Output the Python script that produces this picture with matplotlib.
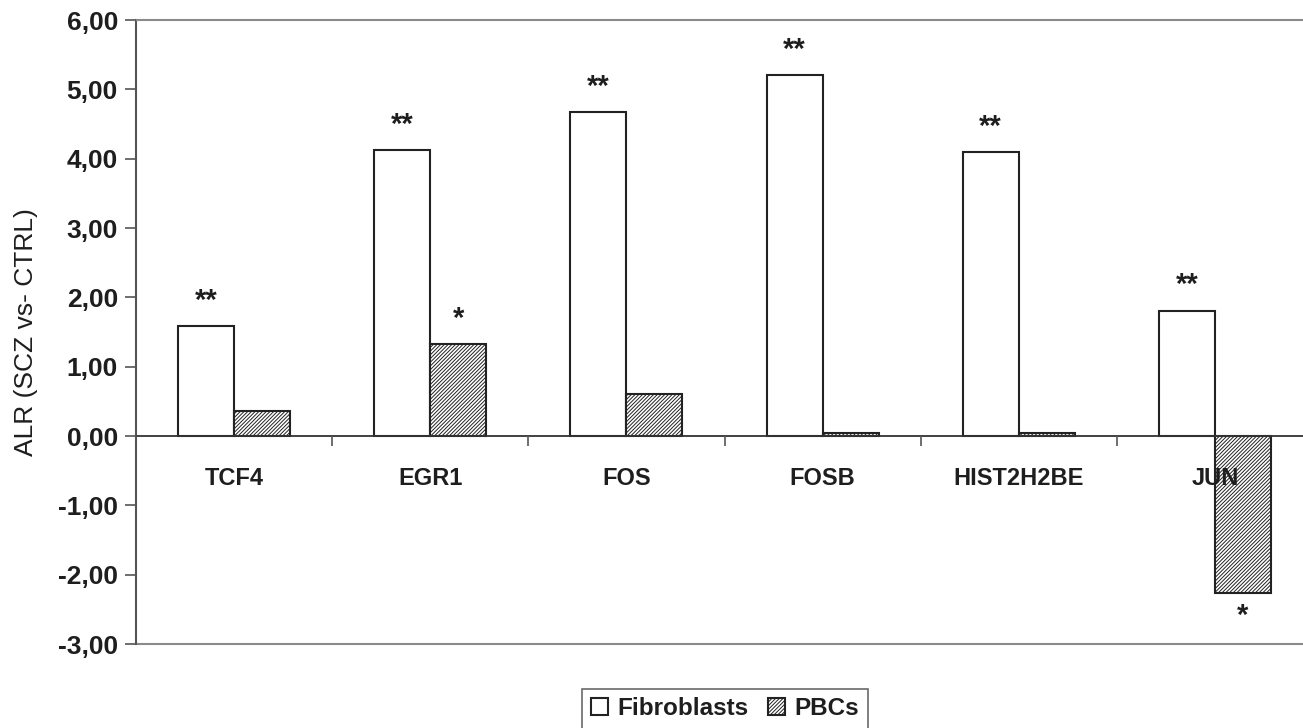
import matplotlib
matplotlib.use("Agg")
import matplotlib.pyplot as plt
import numpy as np
from matplotlib.ticker import FuncFormatter, FixedLocator

categories = ["TCF4", "EGR1", "FOS", "FOSB", "HIST2H2BE", "JUN"]
fibroblasts = [1.59, 4.13, 4.67, 5.21, 4.10, 1.81]
pbcs = [0.36, 1.33, 0.61, 0.05, 0.05, -2.27]
fib_sig = ["**", "**", "**", "**", "**", "**"]
pbc_sig = ["", "*", "", "", "", "*"]
series_names = ["Fibroblasts", "PBCs"]
y_label = "ALR (SCZ vs- CTRL)"

plt.rcParams['font.family'] = ['Liberation Sans', 'DejaVu Sans']
plt.rcParams['hatch.color'] = '#666666'
plt.rcParams['hatch.linewidth'] = 0.7

fig = plt.figure(figsize=(13.03, 7.28), dpi=100)
ax = fig.add_axes([136/1303, 1 - 644/728, (1313-136)/1303, 624/728])
ax.set_axisbelow(False)

ax.spines['bottom'].set_position(('data', 0))
ax.spines['bottom'].set_color('#333333')
ax.spines['bottom'].set_linewidth(1.3)
ax.spines['left'].set_color('#555555')
ax.spines['left'].set_linewidth(1.5)
ax.spines['top'].set_color('#8a8a8a')
ax.spines['top'].set_linewidth(1.5)
ax.spines['right'].set_visible(False)

x = np.arange(len(categories))
w = 0.2857
txtc = '#1e1e1e'
b1 = ax.bar(x - w/2, fibroblasts, w, color='white', edgecolor='#222222', linewidth=1.5,
            zorder=2, label=series_names[0])
b2 = ax.bar(x + w/2, pbcs, w, color='white', edgecolor='#222222', linewidth=1.5,
            hatch='/////////', zorder=2, label=series_names[1])

for i in range(len(categories)):
    if fib_sig[i]:
        ax.annotate(fib_sig[i], (x[i] - w/2, fibroblasts[i]), xytext=(0, 8),
                    textcoords='offset points', ha='center', va='bottom',
                    fontsize=21, fontweight='bold', color=txtc)
    if pbc_sig[i]:
        v = pbcs[i]
        ax.annotate(pbc_sig[i], (x[i] + w/2, v), xytext=(0, 8 if v >= 0 else -6),
                    textcoords='offset points', ha='center',
                    va='bottom' if v >= 0 else 'top',
                    fontsize=21, fontweight='bold', color=txtc)

ax.set_xlim(-0.5, len(categories) - 0.5)
ax.set_ylim(-3, 6)
ax.set_yticks(np.arange(-3, 7, 1))
ax.yaxis.set_major_formatter(FuncFormatter(lambda v, p: f"{v:.2f}".replace('.', ',')))
ax.tick_params(axis='y', labelsize=19, colors='#555555', labelcolor=txtc, length=8, width=1.2,
               direction='out', pad=5)

ax.set_xticks(x)
ax.set_xticklabels(categories)
ax.tick_params(axis='x', which='major', length=0, pad=22, labelsize=17, labelcolor=txtc)
ax.xaxis.set_minor_locator(FixedLocator(np.arange(-0.5, len(categories), 1)))
ax.tick_params(axis='x', which='minor', length=7, width=1.2, colors='#555555', direction='out')
for lab in ax.get_yticklabels() + ax.get_xticklabels():
    lab.set_fontweight('bold')

ax.axhline(-3, color='#8a8a8a', linewidth=1.5, clip_on=False, zorder=1)

ax.set_ylabel(y_label, fontsize=19, color=txtc, labelpad=14)

leg = fig.legend(handles=[b1, b2], loc='lower center', bbox_to_anchor=(725/1303, -0.018),
                 ncol=2, frameon=True, fancybox=False, edgecolor='#444444',
                 prop={'size': 17.5, 'weight': 'bold'}, handlelength=0.7, handleheight=0.7,
                 handletextpad=0.4, columnspacing=0.8, borderpad=0.35)
leg.get_frame().set_linewidth(1.2)
for t in leg.get_texts():
    t.set_color(txtc)

fig.savefig("out.png", dpi=100)
